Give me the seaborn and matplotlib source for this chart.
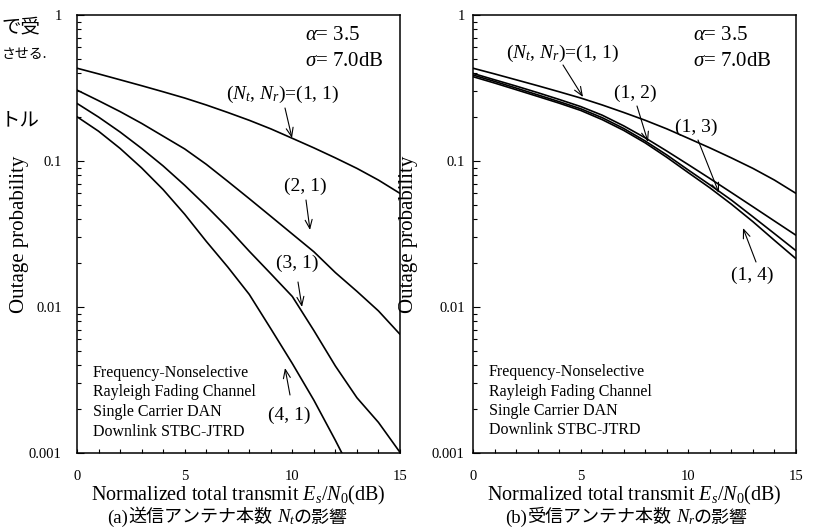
import numpy as np
import pandas as pd
import matplotlib
matplotlib.use("Agg")
import matplotlib.pyplot as plt
import seaborn as sns
from matplotlib.ticker import FixedLocator, FixedFormatter, MultipleLocator, LogLocator, NullFormatter

# ---------------- data ----------------
snr_db = list(range(16))

# panel (a): number of transmit antennas
p_11 = [0.432, 0.395, 0.36, 0.328, 0.298, 0.27, 0.242, 0.215, 0.19, 0.166,
        0.143, 0.123, 0.105, 0.089, 0.074, 0.060]
p_21 = [0.306, 0.259, 0.218, 0.181, 0.148, 0.121, 0.095, 0.0726, 0.0552, 0.0418,
        0.0316, 0.0239, 0.0172, 0.0128, 0.0094, 0.0065]
p_31 = [0.248, 0.200, 0.158, 0.122, 0.0925, 0.0682, 0.0492, 0.0349, 0.0241, 0.0169,
        0.0118, 0.0069, 0.00394, 0.00239, 0.00162, 0.00101]
snr_41 = [0, 1, 2, 3, 4, 5, 6, 7, 8, 9, 10, 11, 12, 12.3]
p_41 = [0.201, 0.160, 0.122, 0.0897, 0.0637, 0.0432, 0.0282, 0.0188, 0.0122, 0.0071,
        0.0041, 0.0023, 0.00122, 0.001]

# panel (b): number of receive antennas
p_12 = [0.398, 0.360, 0.326, 0.294, 0.264, 0.236, 0.206, 0.174, 0.144, 0.117,
        0.0944, 0.0759, 0.0608, 0.0486, 0.0388, 0.0310]
p_13 = [0.388, 0.351, 0.316, 0.284, 0.255, 0.228, 0.198, 0.167, 0.137, 0.110,
        0.0867, 0.0687, 0.0540, 0.0415, 0.0318, 0.0243]
p_14 = [0.378, 0.342, 0.308, 0.277, 0.249, 0.222, 0.192, 0.162, 0.133, 0.106,
        0.0832, 0.0655, 0.0506, 0.0384, 0.0286, 0.0214]

labels_a = [r"($N_t$, $N_r$)=(1, 1)", "(2, 1)", "(3, 1)", "(4, 1)"]
labels_b = [r"($N_t$, $N_r$)=(1, 1)", "(1, 2)", "(1, 3)", "(1, 4)"]
params_text = [r"$\alpha$= 3.5", r"$\sigma$= 7.0dB"]
channel_text = ["Frequency-Nonselective", "Rayleigh Fading Channel",
                "Single Carrier DAN", "Downlink STBC-JTRD"]
x_ticks = [0, 5, 10, 15]
y_ticks = [0.001, 0.01, 0.1, 1]
y_tick_labels = ["0.001", "0.01", "0.1", "1"]
xlabel = r"Normalized total transmit $E_s$/$N_0$(dB)"
ylabel = "Outage probability"

df_a = pd.concat([
    pd.DataFrame({"snr": snr_db, "p": p_11, "cfg": "(1,1)"}),
    pd.DataFrame({"snr": snr_db, "p": p_21, "cfg": "(2,1)"}),
    pd.DataFrame({"snr": snr_db, "p": p_31, "cfg": "(3,1)"}),
    pd.DataFrame({"snr": snr_41, "p": p_41, "cfg": "(4,1)"}),
], ignore_index=True)
df_b = pd.concat([
    pd.DataFrame({"snr": snr_db, "p": p_11, "cfg": "(1,1)"}),
    pd.DataFrame({"snr": snr_db, "p": p_12, "cfg": "(1,2)"}),
    pd.DataFrame({"snr": snr_db, "p": p_13, "cfg": "(1,3)"}),
    pd.DataFrame({"snr": snr_db, "p": p_14, "cfg": "(1,4)"}),
], ignore_index=True)

# ---------------- style ----------------
sns.set_theme(style="ticks")
plt.rcParams["font.family"] = ["Liberation Serif", "Noto Sans CJK JP"]
plt.rcParams.update({
    "mathtext.fontset": "custom",
    "mathtext.rm": "Liberation Serif",
    "mathtext.it": "Liberation Serif:italic",
    "mathtext.bf": "Liberation Serif:bold",
    "axes.edgecolor": "black",
    "axes.linewidth": 1.1,
    "xtick.color": "black",
    "ytick.color": "black",
    "text.color": "black",
    "axes.labelcolor": "black",
    "axes.facecolor": "white",
    "figure.facecolor": "white",
})

W, H = 816, 527
fig = plt.figure(figsize=(W / 100, H / 100), dpi=100)


def fx(x):
    return x / W


def fy(y):
    return 1 - y / H


axA = fig.add_axes([fx(77), fy(453), fx(400) - fx(77), fy(15) - fy(453)])
axB = fig.add_axes([fx(473), fy(453), fx(796) - fx(473), fy(15) - fy(453)])

for ax, df in ((axA, df_a), (axB, df_b)):
    cfgs = df["cfg"].unique()
    sns.lineplot(data=df, x="snr", y="p", hue="cfg",
                 palette={c: "black" for c in cfgs}, linewidth=1.2,
                 legend=False, ax=ax)
    ax.set_yscale("log")
    ax.set_xlim(0, 15)
    ax.set_ylim(1e-3, 1)
    ax.xaxis.set_major_locator(FixedLocator(x_ticks))
    ax.xaxis.set_minor_locator(MultipleLocator(1))
    ax.yaxis.set_major_locator(FixedLocator(y_ticks))
    ax.yaxis.set_major_formatter(FixedFormatter(y_tick_labels))
    ax.yaxis.set_minor_locator(LogLocator(base=10, subs=np.arange(2, 10)))
    ax.yaxis.set_minor_formatter(NullFormatter())
    ax.tick_params(axis="x", which="both", direction="in", length=3,
                   width=0.8, pad=12, labelsize=10.5, top=False)
    ax.tick_params(axis="y", which="major", direction="in", length=5,
                   width=0.8, labelsize=10.5, right=False)
    ax.tick_params(axis="y", which="minor", direction="in", length=3,
                   width=0.8, right=False)
    for s in ax.spines.values():
        s.set_visible(True)
        s.set_color("black")
        s.set_linewidth(1.1)
    ax.set_xlabel(xlabel, fontsize=14.5, va="center")
    ax.xaxis.set_label_coords(0.5, (453 - 495) / 438)
    ax.set_ylabel(ylabel, fontsize=15, va="center")

axA.tick_params(axis="y", which="major", pad=11)
axB.tick_params(axis="y", which="major", pad=6)
axA.yaxis.set_label_coords((20 - 77) / 323, 0.5)
axB.yaxis.set_label_coords((408 - 473) / 323, 0.5)

# parameter texts
for x0, ys in ((305, (40, 66)), (693, (39.5, 65.5))):
    for s, yb in zip(params_text, ys):
        fig.text(fx(x0), fy(yb), s, fontsize=15, ha="left", va="baseline")

# channel description
for x0, ys in ((93, (377, 396.5, 416, 435.5)), (489, (376, 395.5, 415, 434.5))):
    for s, yb in zip(channel_text, ys):
        fig.text(fx(x0), fy(yb), s, fontsize=11.5, ha="left", va="baseline")

# curve labels with arrows (label centre, arrow tail, arrow tip) in pixels
ann_a = [((282.5, 94), (285, 108), (292, 138)),
         ((305, 186), (306, 200), (310, 230)),
         ((297.5, 263), (298, 282), (302, 307)),
         ((289.5, 415), (290, 395), (285, 368))]
ann_b = [((562.5, 53), (563, 65), (583, 97)),
         ((635, 93), (637, 106), (648, 142)),
         ((696, 127), (698, 140), (719, 193)),
         ((752.5, 275), (756, 262), (743, 228))]
for labels, anns in ((labels_a, ann_a), (labels_b, ann_b)):
    for s, (c, tail, tip) in zip(labels, anns):
        fig.text(fx(c[0]), fy(c[1]), s, fontsize=14, ha="center", va="center")
        fig.add_artist(matplotlib.patches.FancyArrowPatch(
            (fx(tail[0]), fy(tail[1])), (fx(tip[0]), fy(tip[1])),
            transform=fig.transFigure, arrowstyle="->,head_length=0.45,head_width=0.18",
            mutation_scale=14, lw=0.8, color="black", shrinkA=0, shrinkB=0))

# captions built from pieces (serif latin + CJK + math)
renderer = fig.canvas.get_renderer()
serif = {"family": ["Liberation Serif"], "size": 13.5}
cjk = {"family": ["Noto Sans CJK JP"], "size": 13}


def caption(pieces, cx, yb):
    texts = []
    gaps = []
    for s, fp, gap in pieces:
        t = fig.text(0, fy(yb), s, ha="left", va="baseline", fontdict=fp)
        texts.append(t)
        gaps.append(gap)
    widths = [t.get_window_extent(renderer).width + g for t, g in zip(texts, gaps)]
    x = cx - sum(widths) / 2
    for t, w in zip(texts, widths):
        t.set_x(fx(x))
        x += w


caption([("(a)", serif, 0), ("送信アンテナ本数", cjk, 0), (" ", serif, 0),
         (r"$N_t$", serif, -2), ("の影響", cjk, 0)], 227.5, 522.5)
caption([("(b)", serif, 0), ("受信アンテナ本数", cjk, 0), (" ", serif, 0),
         (r"$N_r$", serif, -2), ("の影響", cjk, 0)], 626.7, 522.5)

# fragments of the surrounding page text
frag = {"family": ["Noto Sans CJK JP"], "size": 14}
fig.text(fx(40), fy(27), "で受", ha="right", va="center", fontdict=frag)
fig.text(fx(47), fy(54), "させる.", ha="right", va="center",
         fontdict={"family": ["Noto Sans CJK JP"], "size": 10})
fig.text(fx(40), fy(120), "トル", ha="right", va="center", fontdict=frag)

fig.savefig("out.png", dpi=100)
